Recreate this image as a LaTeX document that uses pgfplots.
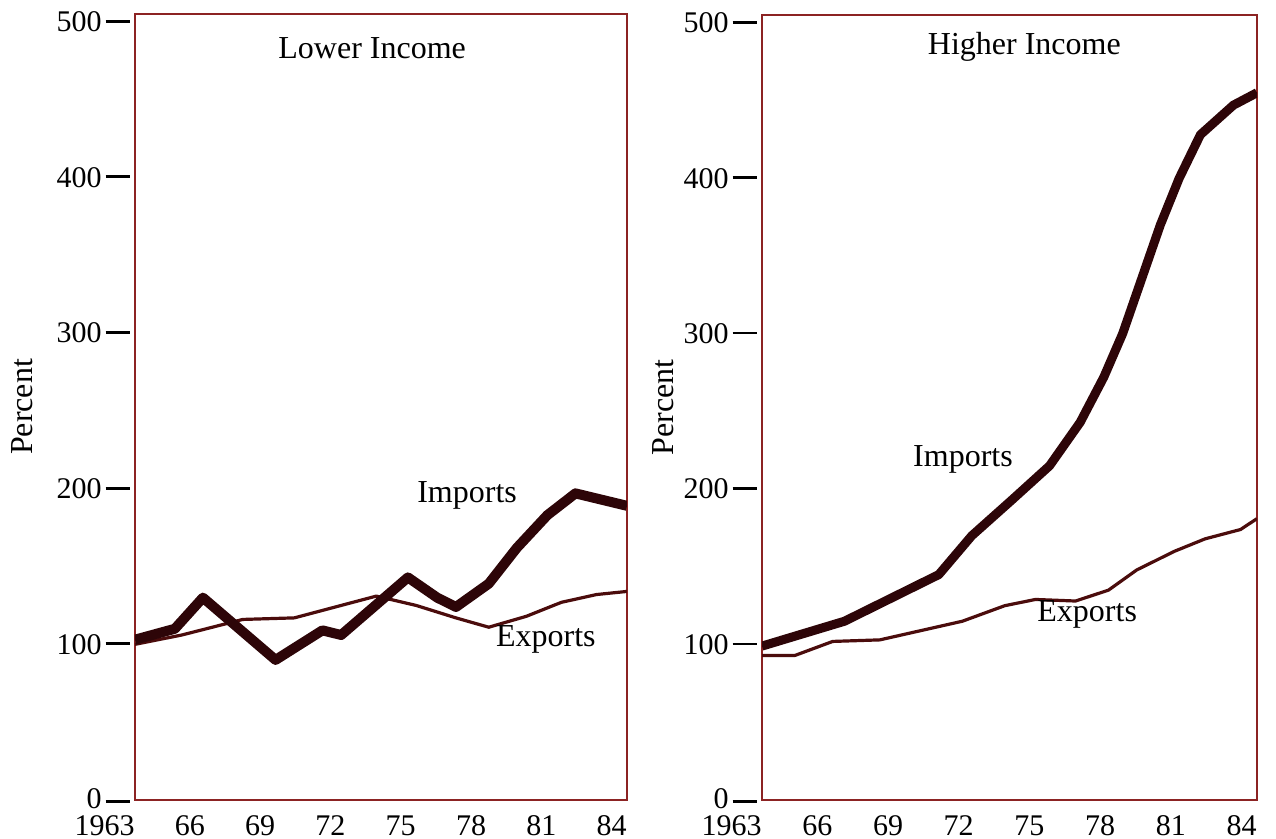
\documentclass[border=0pt]{standalone}
\usepackage{fontspec}
\setmainfont{Liberation Serif}
\usepackage{pgfplots}
\pgfplotsset{compat=1.18}

\definecolor{framecol}{RGB}{140,35,35}
\definecolor{impcol}{RGB}{45,5,8}
\definecolor{expcol}{RGB}{75,12,12}

% dash after each y tick number, as in the print
\newcommand{\tickdash}{\hspace{2pt}\rule[0.3em]{12pt}{1.4pt}}
\newcommand{\zerodash}{\hspace{2pt}\rule[4.15pt]{12pt}{1.4pt}}
\newcommand{\labfont}{\fontsize{16}{19}\selectfont}

\pgfplotsset{
  panel/.style={
    scale only axis,
    width=246pt, height=393pt,
    xmin=1963, xmax=1984,
    ymin=0, ymax=505,
    axis line style={draw=framecol, line width=1pt},
    xtick={1963,1966,...,1984},
    xticklabels={1963,66,69,72,75,78,81,84},
    ytick={0,100,200,300,400,500},
    yticklabels={\raisebox{1.5pt}{0}\zerodash,100\tickdash,200\tickdash,300\tickdash,400\tickdash,500\tickdash},
    tick style={draw=none},
    xticklabel style={anchor=north east, inner sep=0pt, yshift=-7.5pt,
      font=\fontsize{15}{18}\selectfont},
    yticklabel style={anchor=east, inner sep=0pt, xshift=-2.5pt,
      font=\fontsize{15}{18}\selectfont},
    ylabel={Percent},
    ylabel style={font=\labfont, anchor=center},
  },
  imp/.style={draw=impcol, line width=5pt, line join=round, no marks},
  exp/.style={draw=expcol, line width=1.6pt, line join=round, no marks},
}

\begin{document}
\begin{tikzpicture}

% Lower income
\begin{axis}[panel,
  ylabel style={at={(axis description cs:-0.23,0.5)}}]
  \addplot[exp] coordinates {
    (1963,100) (1965,106) (1967.6,116) (1969.8,117) (1973.3,131)
    (1975,125) (1976.7,117) (1978.1,111) (1979.7,118) (1981.2,127)
    (1982.7,132) (1984,134)
  };
  \addplot[imp] coordinates {
    (1963,103) (1964.7,110) (1965.9,130) (1969.0,90) (1971.0,109)
    (1971.8,106) (1974.65,143) (1975.9,130) (1976.7,124) (1978.1,139)
    (1979.3,162) (1980.6,183) (1981.8,197) (1984,189)
  };
  \node[font=\labfont] at (rel axis cs:0.482,0.957) {Lower Income};
  \node[font=\labfont] at (rel axis cs:0.675,0.388) {Imports};
  \node[font=\labfont] at (rel axis cs:0.835,0.204) {Exports};
\end{axis}

% Higher income
\begin{axis}[panel,
  width=247.5pt, height=392.5pt,
  xshift=313.5pt,
  ylabel style={at={(axis description cs:-0.2,0.5)}}]
  \addplot[exp] coordinates {
    (1963,93) (1964.4,93) (1966,102) (1968,103) (1971.5,115)
    (1973.3,125) (1974.6,129) (1976.3,128) (1977.7,135) (1978.9,148)
    (1980.5,160) (1981.8,168) (1983.3,174) (1984,181)
  };
  \addplot[imp, line width=4.5pt] coordinates {
    (1963,99) (1966.5,115) (1970.5,145) (1971.9,170) (1973.6,193)
    (1975.2,215) (1976.5,243) (1977.5,272) (1978.3,300) (1979.1,335)
    (1979.9,370) (1980.7,400) (1981.6,428) (1983,447) (1984,455)
  };
  \node[font=\labfont] at (rel axis cs:0.53,0.96) {Higher Income};
  \node[font=\labfont] at (rel axis cs:0.406,0.434) {Imports};
  \node[font=\labfont] at (rel axis cs:0.657,0.236) {Exports};
\end{axis}

\path (-67.5pt,-19.5pt) rectangle (570.5pt,400pt);
\end{tikzpicture}
\end{document}
